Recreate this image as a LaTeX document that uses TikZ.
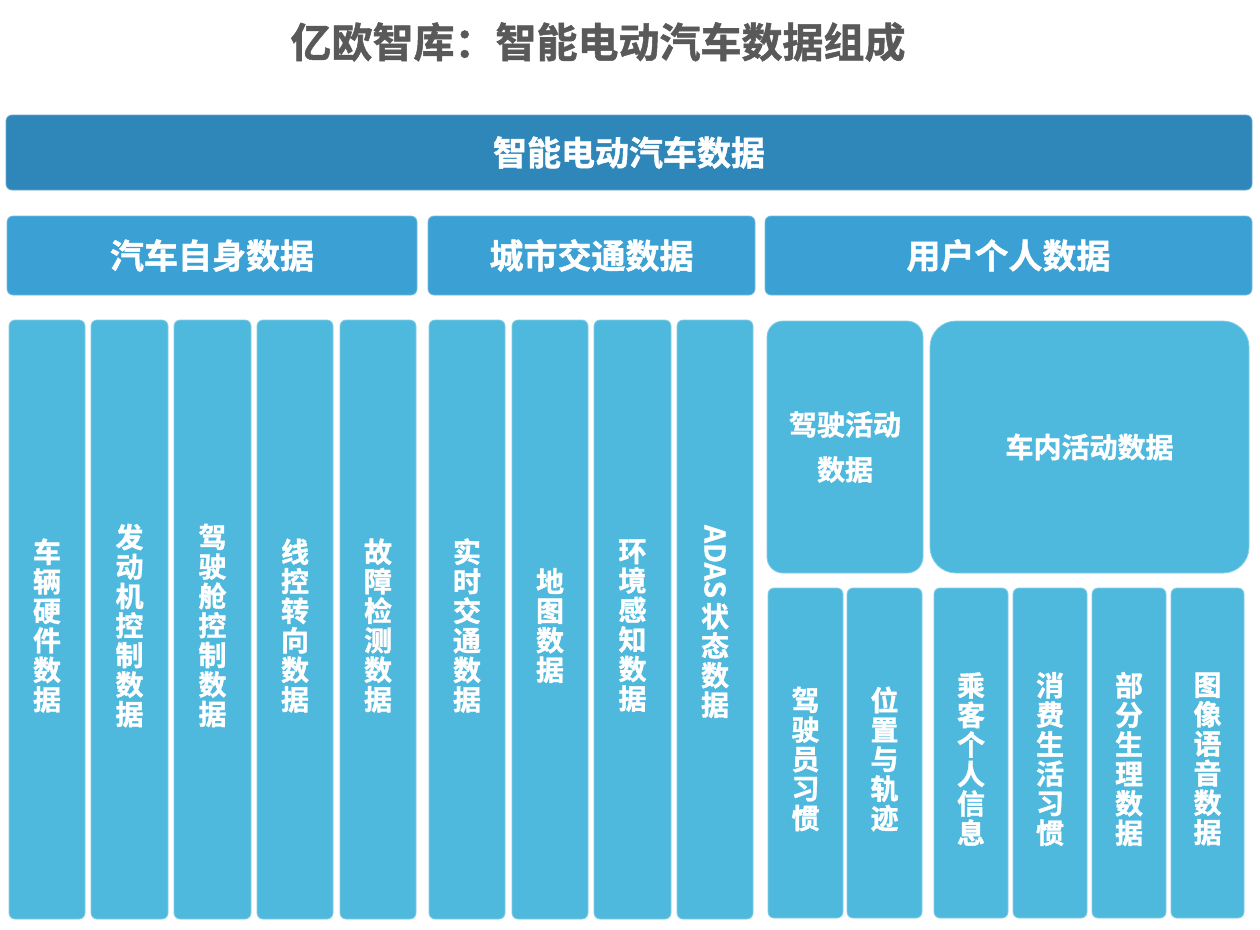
\documentclass[tikz,border=0pt]{standalone}
\usepackage{fontspec}
\setmainfont{Noto Sans CJK SC}[BoldFont={Noto Sans CJK SC Bold}, BoldFeatures={FakeBold=1.3}]
\definecolor{topc}{HTML}{2E86B9}
\definecolor{midc}{HTML}{3BA0D3}
\definecolor{colc}{HTML}{4FB8DD}
\definecolor{titc}{HTML}{595959}
\begin{document}
\begin{tikzpicture}[x=1pt,y=-1pt,
  base/.style={inner sep=0pt, text=white, font=\bfseries, align=center},
  topbox/.style={base, fill=topc, draw=topc!70!white, line width=0.8pt, rounded corners=6pt, font=\fontsize{34}{40}\selectfont\bfseries},
  midbox/.style={base, fill=midc, draw=midc!70!white, line width=0.8pt, rounded corners=6pt, font=\fontsize{34}{40}\selectfont\bfseries},
  colbox/.style={base, fill=colc, draw=colc!70!white, line width=0.8pt, rounded corners=6pt},
  vtext/.style={base, font=\fontsize{28}{29.5}\selectfont\bfseries},
  htext/.style={base, font=\fontsize{28}{45}\selectfont\bfseries}]
\useasboundingbox (0,0) rectangle (1260,929);
\node[font=\fontsize{41}{44}\selectfont\bfseries, text=titc, inner sep=0pt] (title) at (598,42) {亿欧智库：智能电动汽车数据组成};
% top bar
\node[topbox, minimum width=1246pt, minimum height=75pt] (top) at (629,152.5) {智能电动汽车数据};
% second row
\node[midbox, minimum width=410pt, minimum height=79pt] (self) at (212,255.5) {汽车自身数据};
\node[midbox, minimum width=327pt, minimum height=79pt] (city) at (591.5,255.5) {城市交通数据};
\node[midbox, minimum width=487pt, minimum height=79pt] (user) at (1008.5,255.5) {用户个人数据};
% columns of vehicle data
\foreach \n/\xa/\xb/\t in {c1/9/85/{车\\辆\\硬\\件\\数\\据},
  c2/91/168/{发\\动\\机\\控\\制\\数\\据},
  c3/174/251/{驾\\驶\\舱\\控\\制\\数\\据},
  c4/257/333/{线\\控\\转\\向\\数\\据},
  c5/340/416/{故\\障\\检\\测\\数\\据},
  d1/429/505/{实\\时\\交\\通\\数\\据},
  d2/512/588/{地\\图\\数\\据},
  d3/594/671/{环\\境\\感\\知\\数\\据}}{
  \node[colbox, minimum width={\xb-\xa}, minimum height=599pt] (\n) at ({(\xa+\xb)/2},619.5) {};
  \node[vtext] (\n t) at ([yshift=-6pt]\n.center) {\t};
}
\node[colbox, minimum width=76pt, minimum height=599pt] (d4) at (715,619.5) {};
\node[vtext] (d4t) at ([yshift=-2pt]d4.center) {\rotatebox[origin=c]{-90}{ADAS}\\[4pt]状\\态\\数\\据};
% user data
\node[colbox, rounded corners=16pt, minimum width=156pt, minimum height=252pt] (drive) at (845,447) {};
\node[htext] (drivet) at (drive.center) {驾驶活动\\数据};
\node[colbox, rounded corners=26pt, minimum width=319pt, minimum height=252pt] (cabin) at (1089.5,447) {};
\node[htext] (cabint) at (cabin.center) {车内活动数据};
\foreach \n/\xa/\xb/\t in {u1/768/843/{驾\\驶\\员\\习\\惯},
  u2/847/922/{位\\置\\与\\轨\\迹},
  u3/934/1008/{乘\\客\\个\\人\\信\\息},
  u4/1013/1087/{消\\费\\生\\活\\习\\惯},
  u5/1092/1166/{部\\分\\生\\理\\数\\据},
  u6/1171/1244/{图\\像\\语\\音\\数\\据}}{
  \node[colbox, minimum width={\xb-\xa}, minimum height=330pt] (\n) at ({(\xa+\xb)/2},753) {};
  \node[vtext] (\n t) at ([yshift=-6pt]\n.center) {\t};
}
\end{tikzpicture}
\end{document}
